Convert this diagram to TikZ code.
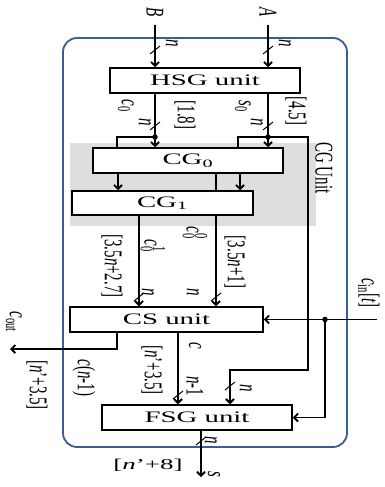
\documentclass[tikz,border=0pt]{standalone}
\usepackage{graphicx}
\usepackage{fontspec}
\setmainfont{Liberation Serif}
\usetikzlibrary{arrows.meta,calc}
\definecolor{bluebox}{RGB}{55,95,150}
\definecolor{graybg}{RGB}{222,222,222}
\newcommand{\hstr}[1]{\scalebox{1.8}[1]{#1}}
\newcommand{\vstr}[1]{\scalebox{1}[1.7]{#1}}
\tikzset{
  unitbox/.style={draw, line width=1.5pt, fill=white, minimum height=25pt, inner sep=0pt, font=\fontsize{16}{19}\selectfont},
  vlab/.style={rotate=-90, inner sep=0pt, font=\fontsize{15}{18}\selectfont},
  hlab/.style={inner sep=0pt, font=\fontsize{15}{18}\selectfont},
  wire/.style={line width=1.8pt},
  arr/.style={wire, -{Straight Barb[length=4pt,width=8pt]}},
  tick/.style={line width=1pt},
  jdot/.style={circle, fill, inner sep=0pt, minimum size=5.5pt},
}
\begin{document}
\begin{tikzpicture}[x=1pt,y=-1pt]
\useasboundingbox (0,0) rectangle (384,487);
\fill[white] (0,0) rectangle (384,487);
% CG unit gray area and outer blue frame
\fill[graybg] (70,143) rectangle (316,226);
\draw[bluebox, line width=1.8pt, rounded corners=14pt] (63,38) rectangle (347,447);

% unit boxes
\node[unitbox, minimum width=190pt] (HSG) at (205,80.5) {\hstr{HSG unit}};
\node[unitbox, minimum width=190pt] (CG0) at (188,160.5) {\hstr{CG\textsubscript{0}}};
\node[unitbox, minimum width=181pt, minimum height=24pt] (CG1) at (162.5,203) {\hstr{CG\textsubscript{1}}};
\node[unitbox, minimum width=193pt] (CS) at (166.5,319.5) {\hstr{CS unit}};
\node[unitbox, minimum width=190pt] (FSG) at (197,417.5) {\hstr{FSG unit}};

% reference coordinates
\coordinate (Bin) at (155,25);
\coordinate (Ain) at (268,25);
\coordinate (xa) at (118,0);
\coordinate (xb) at (240,0);
\coordinate (xc) at (216,0);
\coordinate (xd) at (139,0);
\coordinate (xe) at (117,0);
\coordinate (xf) at (178,0);
\coordinate (xg) at (230,0);
\coordinate (bL) at (117,148);
\coordinate (bR) at (238,148);
\coordinate (sD) at (308,370);
\coordinate (cout) at (10,349);
\coordinate (cin) at (377,319.5);
\coordinate (sout) at (201,477);
\node[jdot] (jL) at (155,137) {};
\node[jdot] (jR) at (268,137) {};
\node[jdot] (jC) at (325,319.5) {};

% inputs
\draw[arr] (Bin) -- (Bin |- HSG.north);
\draw[arr] (Ain) -- (Ain |- HSG.north);
% HSG -> CG0
\draw[arr] (HSG.south -| Bin) -- (CG0.north -| Bin);
\draw[arr] (HSG.south -| Ain) -- (CG0.north -| Ain);
\draw[wire] (jL.center) -| (bL);
\draw[wire] (jR.center) -| (bR);
\draw[arr] (jR.center) -| (sD) -| (FSG.north -| xg);
% CG0 -> CG1
\draw[arr] (CG0.south -| xa) -- (CG1.north -| xa);
\draw[arr] (CG0.south -| xb) -- (CG1.north -| xb);
\draw[wire] (CG0.south -| xc) -- (CG1.north -| xc);
% CG -> CS
\draw[arr] (CG1.south -| xc) -- (CS.north -| xc);
\draw[arr] (CG1.south -| xd) -- (CS.north -| xd);
% CS outputs
\draw[arr] (CS.south -| xe) |- (cout);
\draw[arr] (CS.south -| xf) -- (FSG.north -| xf);
% carry in
\draw[arr] (cin) -- (CS.east);
\draw[arr] (jC.center) |- (FSG.east);
% output
\draw[arr] (FSG.south -| sout) -- (sout);

% bus ticks
\foreach \p in {(155,50),(268,50),(155,126),(268,126),(139,297),(216,297),(178,395),(230,386),(201,441)}
  \draw[tick] \p ++(-5,4) -- ++(10,-8);

% labels
\node[vlab] (lB) at (155,12) {\vstr{\textit{B}}};
\node[vlab] (lA) at (268,12) {\vstr{\textit{A}}};
\node[vlab] (nB) at (172,43) {\vstr{\textit{n}}};
\node[vlab] (nA) at (285,43) {\vstr{\textit{n}}};
\node[vlab] (lc0) at (126,106) {\vstr{\textit{c}\textsubscript{0}}};
\node[vlab] (ls0) at (243,106) {\vstr{\textit{s}\textsubscript{0}}};
\node[vlab] (nL) at (145,122) {\vstr{\textit{n}}};
\node[vlab] (nR) at (257,122) {\vstr{\textit{n}}};
\node[vlab] (d18) at (185,115) {\vstr{[1.8]}};
\node[vlab] (d45) at (296,111) {\vstr{[4.5]}};
\node[vlab] (cgu) at (324,168) {\vstr{CG Unit}};
\node[vlab] (lc01) at (153,246) {\vstr{\textit{c}\rlap{\textsuperscript{1}}\textsubscript{0}}};
\node[vlab] (lc00) at (195,233) {\vstr{\textit{c}\rlap{\textsuperscript{0}}\textsubscript{0}}};
\node[vlab] (d27) at (112,266) {\vstr{[3.5\textit{n}+2.7]}};
\node[vlab] (d1) at (235,262) {\vstr{[3.5\textit{n}+1]}};
\node[vlab] (nC1) at (148,292) {\vstr{\textit{n}}};
\node[vlab] (nC2) at (193,292) {\vstr{\textit{n}}};
\node[vlab] (lcin) at (369,293) {\vstr{\textit{c}\textsubscript{in}[\textit{t}]}};
\node[vlab] (lcout) at (14,322) {\vstr{\textit{c}\textsubscript{out}}};
\node[vlab] (dco) at (37,385) {\vstr{[\textit{n}’+3.5]}};
\node[vlab] (lcn) at (84,378) {\vstr{\textit{c}(\textit{n}-1)}};
\node[vlab] (dcm) at (152,370) {\vstr{[\textit{n}’+3.5]}};
\node[vlab] (lc) at (195,346) {\vstr{\textit{c}}};
\node[vlab] (ln1) at (195,386) {\vstr{\textit{n}-1}};
\node[vlab] (nF) at (246,388) {\vstr{\textit{n}}};
\node[vlab] (nS) at (211,440) {\vstr{\textit{n}}};
\node[vlab] (ls) at (214,474) {\vstr{\textit{s}}};
\node[hlab] (d8) at (148,465) {\hstr{[\textit{n}’+8]}};
\end{tikzpicture}
\end{document}
